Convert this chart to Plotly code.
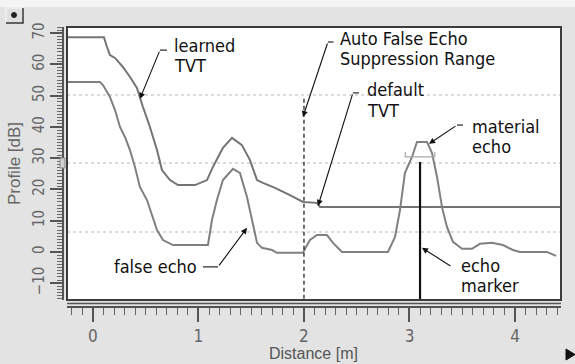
import plotly.graph_objects as go

# Echo profile (dB) against distance (m)
profile_m = [-0.246, 0.066, 0.095, 0.161, 0.209, 0.256, 0.303, 0.351, 0.398, 0.445,
             0.512, 0.559, 0.607, 0.664, 0.758, 1.090, 1.128, 1.175, 1.232, 1.327,
             1.393, 1.460, 1.507, 1.555, 1.602, 1.697, 1.744, 1.991, 2.019, 2.057,
             2.123, 2.218, 2.275, 2.360, 2.796, 2.863, 2.910, 2.957, 3.024, 3.071,
             3.166, 3.213, 3.261, 3.308, 3.355, 3.412, 3.498, 3.592, 3.668, 3.782,
             3.886, 3.981, 4.047, 4.303, 4.389]
profile_db = [54.4, 54.4, 53.4, 49.6, 45.4, 40.0, 36.8, 32.6, 27.2, 20.8,
              16.6, 11.8, 7.0, 3.8, 2.2, 2.2, 10.2, 16.6, 23.0, 26.6,
              25.3, 17.6, 10.2, 2.9, 1.3, 0.6, -0.3, -0.3, 1.6, 3.8,
              5.4, 5.4, 2.9, 0.0, 0.0, 4.8, 13.4, 25.3, 30.4, 35.2,
              35.2, 31.7, 24.0, 14.4, 8.0, 3.2, 1.0, 1.0, 2.6, 2.9,
              2.2, 0.6, 0.0, 0.0, -1.3]

# Learned TVT up to the suppression range, default TVT beyond it
tvt_m = [-0.246, 0.104, 0.133, 0.161, 0.209, 0.284, 0.351, 0.417, 0.474, 0.540,
         0.607, 0.654, 0.730, 0.806, 0.967, 1.081, 1.137, 1.232, 1.318, 1.412,
         1.488, 1.555, 1.611, 1.725, 1.867, 1.991, 2.123, 2.152, 4.436]
tvt_db = [68.7, 68.7, 65.6, 63.0, 62.1, 59.2, 56.0, 52.5, 46.4, 40.0,
          32.6, 26.2, 23.0, 21.4, 21.4, 23.0, 27.2, 33.3, 36.5, 34.2,
          29.4, 23.0, 22.1, 20.5, 18.2, 16.0, 15.7, 14.4, 14.4]

afes_range_m = 2.0        # Auto False Echo Suppression range
afes_top_db = 49.0
echo_marker_m = 3.10
echo_marker_top_db = 28.8
echo_bracket_m = [2.96, 3.24]
echo_bracket_db = 30.4
grid_db = [50.2, 28.5, 6.4]

x_range = [-0.246, 4.436]
y_range = [-15.4, 72.0]

NARROW = "Liberation Sans Narrow, DejaVu Sans Condensed, Arial Narrow, sans-serif"
REG = "Liberation Sans, Arial, sans-serif"

fig = go.Figure()

# dotted horizontal guide lines
for g in grid_db:
    fig.add_shape(type="line", xref="x domain", yref="y", x0=0, x1=1, y0=g, y1=g,
                  line=dict(color="#cfcfcf", width=1.5, dash="dot"), layer="below")

fig.add_trace(go.Scatter(x=tvt_m, y=tvt_db, mode="lines",
                         line=dict(color="#747474", width=2), hoverinfo="skip",
                         showlegend=False))
fig.add_trace(go.Scatter(x=profile_m, y=profile_db, mode="lines",
                         line=dict(color="#808080", width=2), hoverinfo="skip",
                         showlegend=False))

# suppression range boundary
fig.add_trace(go.Scatter(x=[afes_range_m, afes_range_m], y=[afes_top_db, y_range[0]],
                         mode="lines", line=dict(color="#111", width=1.2, dash="4px,3px"),
                         hoverinfo="skip", showlegend=False))
# echo marker
fig.add_trace(go.Scatter(x=[echo_marker_m, echo_marker_m], y=[echo_marker_top_db, y_range[0]],
                         mode="lines", line=dict(color="#111", width=2.2),
                         hoverinfo="skip", showlegend=False))
# echo bracket
b0, b1 = echo_bracket_m
fig.add_trace(go.Scatter(x=[b0, b0, b1, b1],
                         y=[echo_bracket_db + 1.6, echo_bracket_db, echo_bracket_db, echo_bracket_db + 1.6],
                         mode="lines", line=dict(color="#a8a8a8", width=1.2),
                         hoverinfo="skip", showlegend=False))

# plot frame
fig.add_shape(type="rect", xref="x domain", yref="y domain", x0=0, x1=1, y0=0, y1=1,
              line=dict(color="#3c3c3c", width=2), layer="above")

# paper helpers (pixel positions of the decorations around the plot)
PL, PB, PW, PH = 63, 307, 498, 280
def px(x):
    return (x - PL) / PW
def py(y):
    return (PB - y) / PH

# double strip above the distance ruler
fig.add_shape(type="line", xref="paper", yref="paper", x0=px(67), x1=px(561),
              y0=py(303.5), y1=py(303.5), line=dict(color="#555", width=1.5))
# slider handle on the profile ruler
fig.add_shape(type="rect", xref="paper", yref="paper", x0=px(60), x1=px(65),
              y0=py(168), y1=py(158), line=dict(color="#888", width=1), fillcolor="#d0d0d0")
# top bar
fig.add_shape(type="rect", xref="paper", yref="paper", x0=px(0), x1=px(575),
              y0=py(0), y1=py(7), line=dict(width=0), fillcolor="#f4f4f4", layer="below")
# corner button
fig.add_shape(type="rect", xref="paper", yref="paper", x0=px(6), x1=px(23),
              y0=py(23), y1=py(8), line=dict(color="#f8f8f8", width=1), fillcolor="#e0e0e0")
fig.add_shape(type="path", xref="paper", yref="paper",
              path=f"M {px(6)} {py(23)} L {px(23)} {py(23)} L {px(23)} {py(8)}",
              line=dict(color="#333", width=1.5))
fig.add_shape(type="circle", xref="paper", yref="paper", x0=px(11.5), x1=px(16.5),
              y0=py(17.5), y1=py(12.5), line=dict(color="#222", width=1), fillcolor="#222")
# scroll arrow
fig.add_shape(type="path", xref="paper", yref="paper",
              path=f"M {px(566)} {py(349)} L {px(575)} {py(354.5)} L {px(566)} {py(360)} Z",
              line=dict(color="#111", width=1), fillcolor="#111")

# distance axis title
fig.add_annotation(xref="paper", yref="paper", x=px(313.5), y=py(353), text="Distance [m]",
                   showarrow=False, xanchor="center", yanchor="middle",
                   font=dict(family=REG, size=16, color="#555"))

# annotation text
labels = [
    ("learned", 0.749, 66.0), ("TVT", 0.749, 59.8),
    ("Auto False Echo", 2.322, 68.3), ("Suppression Range", 2.322, 61.9),
    ("default", 2.578, 52.0), ("TVT", 2.578, 45.4),
    ("material", 3.573, 40.2), ("echo", 3.573, 33.8),
    ("false echo", 0.180, -4.6),
    ("echo", 3.469, -4.5), ("marker", 3.469, -10.6),
]
for txt, x, y in labels:
    fig.add_annotation(x=x, y=y, text=txt, showarrow=False, xanchor="left", yanchor="middle",
                       font=dict(family=NARROW, size=18, color="#111"))

# leader arrows: (elbow x, elbow y, tip x, tip y, dash end x)
leaders = [
    (0.635, 64.6, 0.445, 49.0, 0.701),
    (2.227, 67.2, 1.990, 43.2, 2.280),
    (2.464, 50.9, 2.133, 14.7, 2.521),
    (3.450, 40.6, 3.185, 34.6, 3.507),
    (1.185, -4.8, 1.460, 7.7, 1.043),
    (3.403, -4.8, 3.118, 1.3, None),
]
for ex, ey, tx, ty, dx in leaders:
    fig.add_annotation(x=tx, y=ty, ax=ex, ay=ey, axref="x", ayref="y", text="",
                       showarrow=True, arrowhead=2, arrowsize=1.1, arrowwidth=1.1,
                       arrowcolor="#111")
    if dx is not None:
        fig.add_shape(type="line", xref="x", yref="y", x0=ex, x1=dx, y0=ey, y1=ey,
                      line=dict(color="#111", width=1.1))

fig.update_layout(
    width=575, height=364,
    margin=dict(l=PL, r=575 - PL - PW, t=PB - PH, b=364 - PB),
    paper_bgcolor="#e3e3e3", plot_bgcolor="#ffffff",
    showlegend=False,
    xaxis=dict(
        domain=[4 / PW, 1], range=x_range, anchor="free", position=0,
        automargin=False,
        showgrid=False, zeroline=False,
        showline=True, linecolor="#555", linewidth=1.5,
        ticks="outside", ticklen=14, tickwidth=2, tickcolor="#555",
        tick0=0, dtick=1, ticklabelstandoff=0,
        minor=dict(ticks="outside", ticklen=7, tickwidth=1.2, tickcolor="#666", dtick=0.1),
        tickfont=dict(family=NARROW, size=17, color="#666"),
    ),
    yaxis=dict(
        domain=[7 / PH, 1], range=y_range, anchor="free", position=0,
        automargin=False,
        showgrid=False, zeroline=False,
        showline=True, linecolor="#555", linewidth=1.5,
        ticks="outside", ticklen=12, tickwidth=2, tickcolor="#555",
        tick0=0, dtick=10,
        minor=dict(ticks="outside", ticklen=5, tickwidth=1, tickcolor="#666", dtick=1),
        tickangle=-90,
        tickfont=dict(family=NARROW, size=15, color="#666"),
        title=dict(text="Profile [dB]", font=dict(family=REG, size=17, color="#666"), standoff=4),
    ),
)

fig.write_html("out.html")
